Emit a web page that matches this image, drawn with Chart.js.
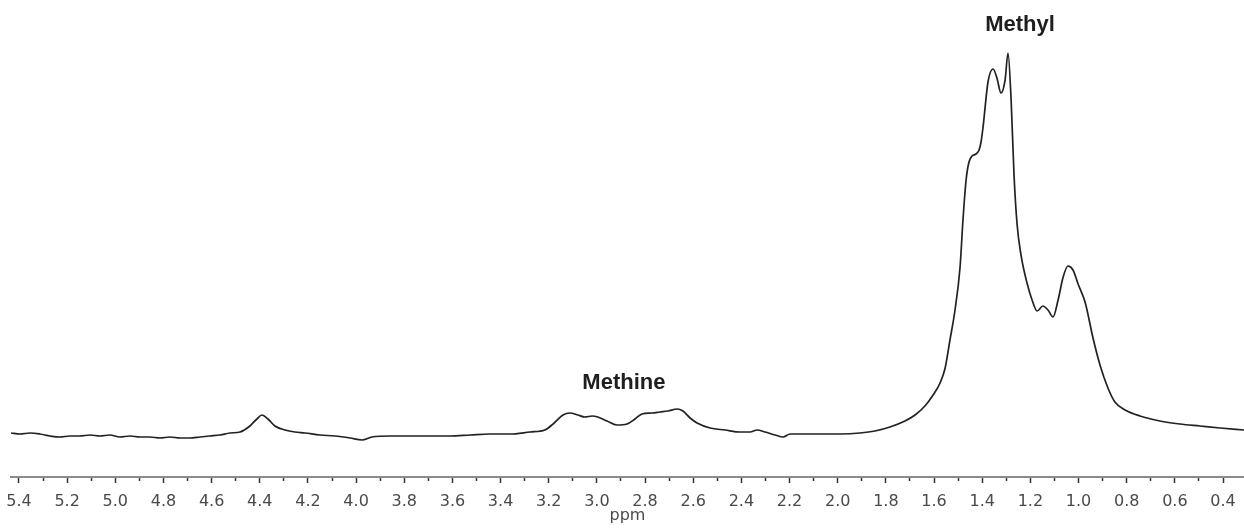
<!DOCTYPE html>
<html>
<head>
<meta charset="utf-8">
<script src="https://cdn.jsdelivr.net/npm/chart.js@4"></script>
<style>
  html, body { margin: 0; padding: 0; background: #fff; }
  #wrap { width: 1244px; height: 529px; }
</style>
</head>
<body>
<div id="wrap"><canvas id="nmrChart" width="1244" height="529"></canvas></div>
<script>
// chemical shift (ppm) and intensity
const shifts = [
  5.433, 5.396, 5.354, 5.313, 5.271, 5.230, 5.188, 5.147, 5.105, 5.064,
  5.022, 4.981, 4.939, 4.898, 4.856, 4.814, 4.773, 4.731, 4.690, 4.648,
  4.607, 4.565, 4.524, 4.482, 4.441, 4.412, 4.391, 4.366, 4.337, 4.295,
  4.254, 4.212, 4.150, 4.088, 4.025, 3.976, 3.934, 3.859, 3.776, 3.693,
  3.610, 3.527, 3.444, 3.361, 3.278, 3.216, 3.182, 3.141, 3.112, 3.079,
  3.050, 3.020, 2.996, 2.958, 2.917, 2.875, 2.842, 2.813, 2.771, 2.738,
  2.705, 2.667, 2.643, 2.613, 2.584, 2.530, 2.468, 2.406, 2.364, 2.335,
  2.302, 2.260, 2.227, 2.198, 2.157, 2.074, 1.991, 1.907, 1.845, 1.783,
  1.721, 1.679, 1.638, 1.604, 1.575, 1.554, 1.534, 1.513, 1.492, 1.480,
  1.467, 1.455, 1.442, 1.426, 1.413, 1.405, 1.397, 1.376, 1.355, 1.339,
  1.322, 1.305, 1.293, 1.280, 1.268, 1.255, 1.239, 1.214, 1.193, 1.172,
  1.148, 1.127, 1.106, 1.085, 1.064, 1.044, 1.023, 1.002, 0.973, 0.940,
  0.911, 0.878, 0.849, 0.807, 0.745, 0.662, 0.579, 0.496, 0.412, 0.313
];
const intensity = [
  7, 6, 7, 6, 4, 3, 4, 4, 5, 4,
  5, 3, 4, 3, 3, 2, 3, 2, 2, 3,
  4, 5, 7, 8, 14, 21, 25, 21, 14, 10,
  8, 7, 5, 4, 2, 0, 3, 4, 4, 4,
  4, 5, 6, 6, 8, 10, 16, 25, 27, 25,
  23, 24, 23, 19, 15, 16, 21, 26, 27, 28,
  29, 31, 29, 22, 17, 12, 10, 8, 8, 10,
  8, 5, 3, 6, 6, 6, 6, 7, 9, 13,
  19, 25, 34, 45, 57, 72, 100, 130, 173, 220,
  260, 278, 284, 286, 290, 298, 312, 358, 371, 362,
  347, 360, 387, 340, 265, 215, 185, 157, 140, 129,
  134, 130, 123, 140, 163, 174, 170, 156, 138, 102,
  75, 52, 38, 30, 24, 19, 16, 14, 12, 10
];

const shiftRange = [0.313, 5.433];
const intensityRange = [-37, 440];
const tickStep = 0.1;

const peakLabels = ["Methyl", "Methine"];
const peakLabelShift = [1.243, 2.888];
const peakLabelHeight = [415, 57];

const points = shifts.map((s, i) => ({ x: s, y: intensity[i] }));

const peakLabelPlugin = {
  id: "peakLabels",
  afterDatasetsDraw(chart) {
    const ctx = chart.ctx;
    const xScale = chart.scales.x;
    const yScale = chart.scales.y;
    ctx.save();
    ctx.font = "bold 22px 'Liberation Sans', Arial, sans-serif";
    ctx.fillStyle = "#1f1f1f";
    ctx.textAlign = "center";
    ctx.textBaseline = "middle";
    for (let i = 0; i < peakLabels.length; i += 1) {
      ctx.fillText(
        peakLabels[i],
        xScale.getPixelForValue(peakLabelShift[i]),
        yScale.getPixelForValue(peakLabelHeight[i])
      );
    }
    ctx.restore();
  }
};

function isMajor(value) {
  return Math.round(value * 10) % 2 === 0;
}

new Chart(document.getElementById("nmrChart"), {
  type: "line",
  data: {
    datasets: [
      {
        data: points,
        borderColor: "#222",
        borderWidth: 1.7,
        pointRadius: 0,
        fill: false,
        cubicInterpolationMode: "monotone"
      }
    ]
  },
  options: {
    responsive: false,
    animation: false,
    layout: { padding: { left: 11, right: 0, top: 0, bottom: 0 } },
    plugins: {
      legend: { display: false },
      tooltip: { enabled: false }
    },
    scales: {
      x: {
        type: "linear",
        reverse: true,
        min: shiftRange[0],
        max: shiftRange[1],
        border: { display: true, color: "#8c8c8c", width: 2 },
        grid: {
          drawOnChartArea: false,
          drawTicks: true,
          tickLength: 6,
          tickColor: "#333",
          tickWidth: 1.5,
          tickBorderDash: (ctx) => (ctx.tick && isMajor(ctx.tick.value) ? [] : [3, 20])
        },
        ticks: {
          stepSize: tickStep,
          includeBounds: false,
          autoSkip: false,
          maxRotation: 0,
          padding: 9,
          color: "#4a4a4a",
          font: { family: "'DejaVu Sans', Verdana, sans-serif", size: 16 },
          callback: (value) => (isMajor(value) ? Number(value).toFixed(1) : "")
        },
        title: {
          display: true,
          text: "ppm",
          color: "#4a4a4a",
          font: { family: "'DejaVu Sans', Verdana, sans-serif", size: 16 },
          padding: { top: 0, bottom: 4 }
        },
        afterFit: (scale) => {
          scale.height = 52;
          scale.paddingLeft = 0;
          scale.paddingRight = 0;
        }
      },
      y: {
        display: false,
        min: intensityRange[0],
        max: intensityRange[1]
      }
    }
  },
  plugins: [peakLabelPlugin]
});
</script>
</body>
</html>
